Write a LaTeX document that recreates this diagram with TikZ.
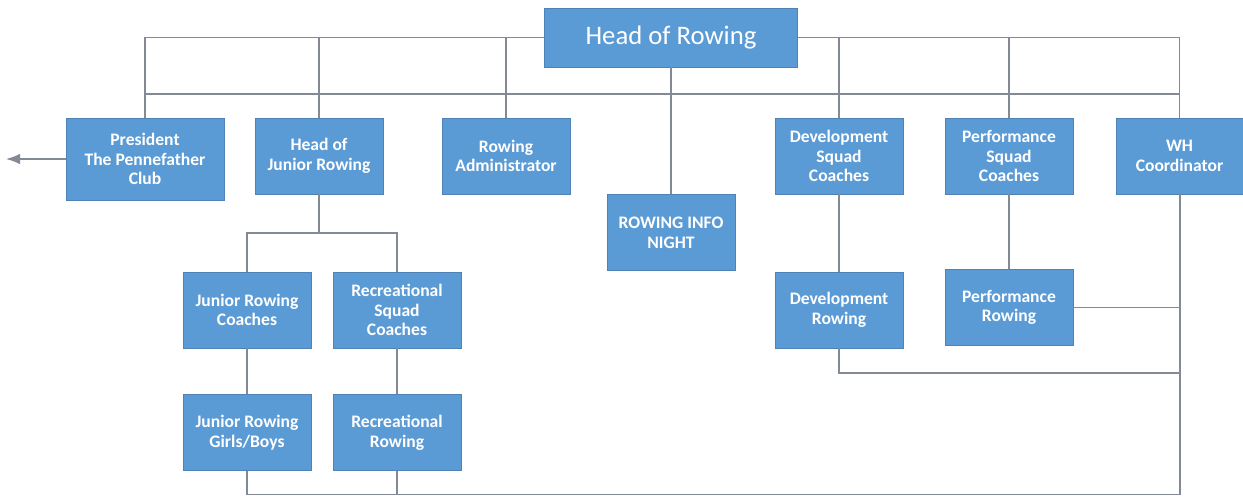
\documentclass[tikz,border=0pt]{standalone}
\usepackage{fontspec}
\setmainfont{Carlito}
\usetikzlibrary{arrows.meta}

\definecolor{boxblue}{HTML}{5B9BD5}
\definecolor{boxedge}{HTML}{4F83B8}
\definecolor{linegrey}{HTML}{838A96}

\tikzset{
	rolebox/.style={draw=boxedge, fill=boxblue, text=white, font=\bfseries\fontsize{10}{11.2}\selectfont,
		align=center, inner sep=2pt, minimum width=2.56cm, minimum height=1.52cm},
	link/.style={draw=linegrey, line width=0.8pt}
}

\begin{document}
\begin{tikzpicture}[x=0.02cm, y=-0.02cm]

	\useasboundingbox (0,0) rectangle (1243,497);

	%% The top box
	\node at (671,37.5) [rolebox, font=\fontsize{15.2}{18}\selectfont, minimum width=5.06cm, minimum height=1.18cm] (hor) {Head of Rowing};

	%% The second row
	\node at (145,159) [rolebox, minimum width=3.16cm, minimum height=1.64cm] (pres) {President\\The Pennefather\\Club};
	\begin{scope}[every node/.style={rolebox}]
		\node at (319,156) (hjr) {Head of\\Junior Rowing};
		\node at (506,156) (radm) {Rowing\\Administrator};
		\node at (671,232.5) (info) {ROWING INFO\\NIGHT};
		\node at (839,156) (dsc) {Development\\Squad\\Coaches};
		\node at (1009,156) (psc) {Performance\\Squad\\Coaches};
		\node at (1179.5,156) [minimum width=2.54cm] (whc) {WH\\Coordinator};

		%% The lower rows
		\node at (247,310) (jrc) {Junior Rowing\\Coaches};
		\node at (397,310) (rsc) {Recreational\\Squad\\Coaches};
		\node at (247,432.5) (jrgb) {Junior Rowing\\Girls/Boys};
		\node at (397,432.5) (rr) {Recreational\\Rowing};
		\node at (839,310) (dr) {Development\\Rowing};
		\node at (1009,307.5) (pr) {Performance\\Rowing};
	\end{scope}

	%% Free ends and joints of the connectors
	\coordinate (out) at (6,159);
	\coordinate (busL) at (145,94);
	\coordinate (busR) at (1180,94);
	\coordinate (jbus) at (319,233);
	\coordinate (drj) at (1180,373);
	\coordinate (bot) at (1180,494.5);

	%% Connectors
	\begin{scope}[every path/.style={link}]
		\foreach \n in {pres,hjr,radm}{%
			\draw (\n.north) |- (hor.west);
		}
		\foreach \n in {dsc,psc,whc}{%
			\draw (\n.north) |- (hor.east);
		}
		\draw (busL) -- (busR);
		\draw (hor.south) -- (info.north);
		\draw[-{Latex[length=8pt,width=6pt]}] (pres.west) -- (out);

		\draw (hjr.south) -- (jbus);
		\draw (jrc.north) |- (jbus) -| (rsc.north);
		\draw (jrc.south) -- (jrgb.north);
		\draw (rsc.south) -- (rr.north);
		\draw (dsc.south) -- (dr.north);
		\draw (psc.south) -- (pr.north);

		\draw (jrgb.south) |- (bot);
		\draw (rr.south) |- (bot);
		\draw (dr.south) |- (drj);
		\draw (pr.east) -- (pr.east -| bot);
		\draw (whc.south -| bot) -- (bot);
	\end{scope}

\end{tikzpicture}
\end{document}
